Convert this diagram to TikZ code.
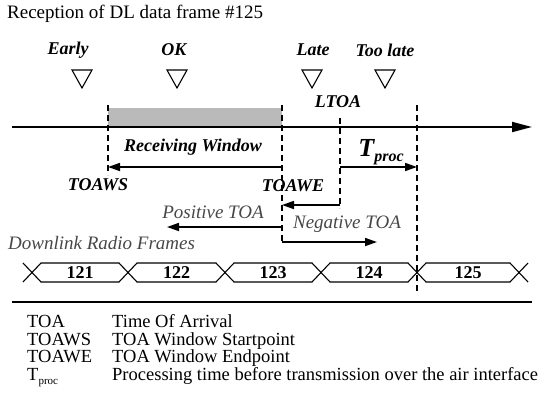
\documentclass[tikz,border=0pt]{standalone}
\usepackage{fontspec}
\setmainfont{Liberation Serif}
\usetikzlibrary{arrows.meta}
\begin{document}
\begin{tikzpicture}[x=1pt,y=-1pt,
  lbl/.style={font=\fontsize{18}{18}\selectfont\bfseries\itshape,inner sep=0pt},
  toalbl/.style={font=\fontsize{19}{19}\selectfont\itshape,text=black!72,inner sep=0pt},
  txt/.style={font=\fontsize{19}{19}\selectfont,inner sep=0pt},
  key/.style={font=\fontsize{18.5}{18.5}\selectfont,inner sep=0pt,anchor=base west},
  num/.style={font=\fontsize{18}{18}\selectfont\bfseries,inner sep=0pt},
  dline/.style={line width=1.4pt,dash pattern=on 6pt off 4pt},
  arr/.style={line width=1.7pt,-{Triangle[length=12pt,width=8pt]}},
  tri/.style={line width=1.1pt,line join=miter},
]
\useasboundingbox (0,0) rectangle (554,400);

\node[txt,anchor=west] (title) at (7,14) {Reception of DL data frame \#125};

% arrival cases
\node[lbl] (early) at (68,50) {Early};
\node[lbl] (ok) at (174,50) {OK};
\node[lbl] (late) at (313,50) {Late};
\node[lbl] (toolate) at (385,50) {Too late};
\foreach \x in {82,177,312,385}
  \draw[tri] (\x-10,70) -- (\x+10,70) -- (\x,88) -- cycle;

% window and time line
\fill[black!27] (108,108) rectangle (282,127);
\coordinate (start) at (12,127);
\coordinate (end) at (532,127);
\draw[line width=1.8pt,-{Triangle[length=20pt,width=10pt]}] (start) -- (end);

\coordinate (ws) at (108,105);
\coordinate (wsb) at (108,175);
\coordinate (we) at (282,105);
\coordinate (web) at (282,243);
\coordinate (lt) at (340,118);
\coordinate (ltb) at (340,208);
\coordinate (tp) at (417,105);
\coordinate (tpb) at (417,292);
\draw[dline] (ws) -- (wsb);
\draw[dline] (we) -- (web);
\draw[dline] (lt) -- (ltb);
\draw[dline] (tp) -- (tpb);

\node[lbl] (ltoa) at (338,102) {LTOA};

\coordinate (rwa) at (282,167);
\coordinate (rwb) at (108,167);
\draw[arr] (rwa) -- (rwb);
\node[lbl] (rw) at (193,147) {Receiving Window};
\node[lbl] (toaws) at (98,185) {TOAWS};
\node[lbl] (toawe) at (293,186) {TOAWE};

\coordinate (tpa) at (340,167);
\coordinate (tpe) at (417,167);
\draw[arr] (tpa) -- (tpe);
\node[inner sep=0pt,font=\bfseries\itshape] (tproc) at (381,152)
  {\fontsize{26}{26}\selectfont T\raisebox{-5pt}{\fontsize{16}{16}\selectfont proc}};

\coordinate (lta) at (340,205);
\coordinate (lte) at (282,205);
\draw[arr] (lta) -- (lte);

\coordinate (posa) at (282,227);
\coordinate (pose) at (167,227);
\draw[arr] (posa) -- (pose);
\node[toalbl] (pos) at (213,212) {Positive TOA};

\coordinate (nega) at (282,242);
\coordinate (nege) at (377,242);
\draw[arr] (nega) -- (nege);
\node[toalbl] (neg) at (347,224) {Negative TOA};

% radio frames
\node[toalbl,anchor=west] (dl) at (8,243) {Downlink Radio Frames};
\foreach \a/\b/\n in {32/128/121,128/225/122,225/321/123,321/417/124,417/519/125}{
  \draw[line width=1.1pt] (\a,272.5) -- (\a+9,263) -- (\b-9,263) -- (\b,272.5)
    -- (\b-9,282) -- (\a+9,282) -- cycle;
  \node[num] (f\n) at ({(\a+\b)/2},273) {\n};
}
\draw[line width=1.1pt] (23,263) -- (32,272.5) -- (23,282);
\draw[line width=1.1pt] (528,263) -- (519,272.5) -- (528,282);

% legend
\coordinate (sepa) at (12,302);
\coordinate (sepb) at (532,302);
\draw[line width=1.4pt] (sepa) -- (sepb);
\node[key] (k1) at (27,327) {TOA};
\node[key] (d1) at (112,327) {Time Of Arrival};
\node[key] (k2) at (27,345) {TOAWS};
\node[key] (d2) at (112,345) {TOA Window Startpoint};
\node[key] (k3) at (27,362) {TOAWE};
\node[key] (d3) at (112,362) {TOA Window Endpoint};
\node[key] (k4) at (27,380) {T\raisebox{-4pt}{\fontsize{11}{11}\selectfont proc}};
\node[key] (d4) at (112,380) {Processing time before transmission over the air interface};
\end{tikzpicture}
\end{document}
